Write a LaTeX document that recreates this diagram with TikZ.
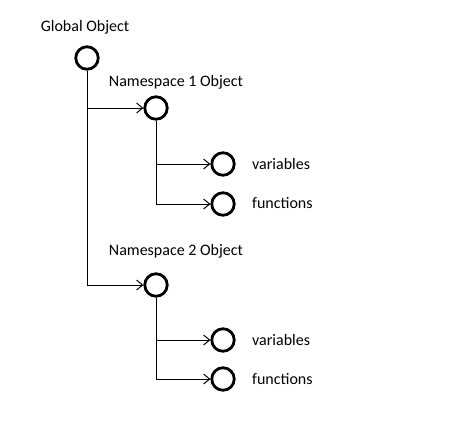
\documentclass[tikz,border=0pt]{standalone}
\usepackage{fontspec}
\setmainfont{Carlito}
\usetikzlibrary{arrows.meta}
\begin{document}
\begin{tikzpicture}[x=1pt,y=-1pt,
  obj/.style={circle,draw,line width=2.8pt,minimum size=22.5pt,inner sep=0pt},
  lbl/.style={font=\fontsize{16}{19}\selectfont,inner sep=0pt},
  conn/.style={line width=1pt,-{Straight Barb[length=6pt,width=10pt]}},
  plain/.style={line width=1pt}]
\useasboundingbox[fill=white] (0,0) rectangle (457,437);
\node[obj] (g) at (87,58) {};
\node[lbl] (gl) at (85,27) {Global Object};
\node[obj] (n1) at (156,108) {};
\node[lbl] (n1l) at (176,82) {Namespace 1 Object};
\node[obj] (v1) at (223,164) {};
\node[obj] (f1) at (223,204) {};
\node[lbl,anchor=west] (v1l) at (252,164) {variables};
\node[lbl,anchor=west] (f1l) at (252,203) {functions};
\node[obj] (n2) at (156,285) {};
\node[lbl] (n2l) at (176,251) {Namespace 2 Object};
\node[obj] (v2) at (223,340) {};
\node[obj] (f2) at (223,379) {};
\node[lbl,anchor=west] (v2l) at (252,340) {variables};
\node[lbl,anchor=west] (f2l) at (252,379) {functions};
\draw[plain] (g.south) |- (n1.west);
\draw[conn] (g|-n1.west) -- (n1.west);
\draw[conn] (g.south) |- (n2.west);
\draw[plain] (n1.south) |- (f1.west);
\draw[conn] (n1|-v1.west) -- (v1.west);
\draw[conn] (n1|-f1.west) -- (f1.west);
\draw[plain] (n2.south) |- (f2.west);
\draw[conn] (n2|-v2.west) -- (v2.west);
\draw[conn] (n2|-f2.west) -- (f2.west);
\end{tikzpicture}
\end{document}
